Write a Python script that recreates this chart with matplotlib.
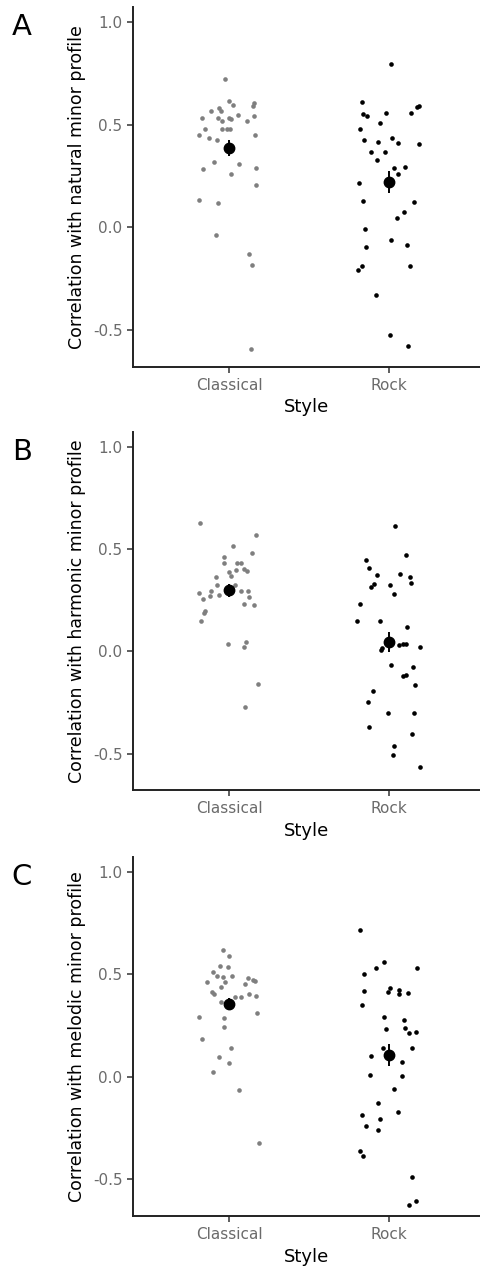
import matplotlib
matplotlib.use("Agg")
import matplotlib.pyplot as plt
import numpy as np

styles = ["Classical", "Rock"]
panel_labels = ["A", "B", "C"]
y_titles = [
    "Correlation with natural minor profile",
    "Correlation with harmonic minor profile",
    "Correlation with melodic minor profile",
]
y_ticks = [-0.5, 0.0, 0.5, 1.0]

# panel A: natural minor
nat_classical = [0.719, 0.612, 0.593, 0.605, 0.589, 0.568, 0.581, 0.565, 0.534, 0.534,
                 0.531, 0.528, 0.547, 0.518, 0.542, 0.515, 0.476, 0.477, 0.477, 0.476,
                 0.451, 0.433, 0.425, 0.451, 0.317, 0.307, 0.286, 0.261, 0.289, 0.205,
                 0.133, 0.117, -0.039, -0.128, -0.183, -0.594]
nat_classical_jit = [-0.025, 0.0, 0.025, 0.156, 0.15, -0.11, -0.062, -0.052, -0.17, -0.069,
                     0.0, 0.01, 0.058, 0.11, 0.156, -0.044, -0.15, -0.042, -0.015, 0.006,
                     -0.185, -0.125, -0.073, 0.16, -0.094, 0.065, -0.165, 0.01, 0.167, 0.167,
                     -0.19, -0.067, -0.079, 0.125, 0.144, 0.138]
nat_rock = [0.795, 0.609, 0.552, 0.542, 0.558, 0.508, 0.558, 0.586, 0.589, 0.476,
            0.425, 0.416, 0.433, 0.411, 0.407, 0.368, 0.368, 0.326, 0.289, 0.291,
            0.261, 0.214, 0.130, 0.122, 0.076, 0.045, -0.010, -0.060, -0.097, -0.084,
            -0.190, -0.206, -0.190, -0.330, -0.523, -0.578]
nat_rock_jit = [0.01, -0.169, -0.163, -0.135, -0.017, -0.056, 0.135, 0.175, 0.19, -0.181,
                -0.156, -0.071, 0.021, 0.056, 0.19, -0.115, -0.027, -0.077, 0.033, 0.102,
                0.058, -0.19, -0.16, 0.156, 0.094, 0.052, -0.152, 0.01, -0.146, 0.112,
                -0.171, -0.192, 0.129, -0.081, 0.004, 0.119]

# panel B: harmonic minor
har_classical = [0.625, 0.570, 0.513, 0.479, 0.463, 0.429, 0.429, 0.430, 0.398, 0.401,
                 0.390, 0.385, 0.369, 0.365, 0.326, 0.323, 0.286, 0.295, 0.271, 0.276,
                 0.295, 0.295, 0.266, 0.253, 0.231, 0.226, 0.195, 0.187, 0.146, 0.036,
                 0.045, 0.019, -0.162, -0.271]
har_classical_jit = [-0.18, 0.17, 0.025, 0.146, -0.033, -0.033, 0.052, 0.073, 0.042, 0.094,
                     0.115, 0.0, 0.01, -0.083, -0.077, 0.038, -0.19, -0.11, -0.119, -0.065,
                     0.073, 0.117, 0.123, -0.165, 0.092, 0.154, -0.15, -0.156, -0.175, -0.006,
                     0.108, 0.096, 0.18, 0.1]
har_rock = [0.612, 0.448, 0.469, 0.406, 0.373, 0.378, 0.365, 0.334, 0.313, 0.330,
            0.323, 0.281, 0.231, 0.146, 0.149, 0.120, 0.015, 0.006, 0.032, 0.037,
            0.034, 0.023, -0.065, -0.075, -0.120, -0.114, -0.166, -0.192, -0.247, -0.304,
            -0.300, -0.372, -0.406, -0.461, -0.508, -0.567]
har_rock_jit = [0.035, -0.144, 0.108, -0.127, -0.075, 0.071, 0.131, 0.137, -0.115, -0.094,
                0.004, 0.029, -0.183, -0.198, -0.054, 0.115, -0.044, -0.05, 0.065, 0.085,
                0.108, 0.196, 0.01, 0.15, 0.085, 0.106, 0.163, -0.098, -0.131, -0.006,
                0.156, -0.127, 0.146, 0.033, 0.027, 0.196]

# panel C: melodic minor
mel_classical = [0.618, 0.589, 0.541, 0.536, 0.510, 0.494, 0.489, 0.494, 0.481, 0.472,
                 0.468, 0.464, 0.451, 0.461, 0.437, 0.412, 0.404, 0.403, 0.394, 0.391,
                 0.391, 0.367, 0.292, 0.289, 0.313, 0.245, 0.187, 0.140, 0.099, 0.070,
                 0.023, -0.065, -0.323]
mel_classical_jit = [-0.035, 0.002, -0.058, -0.008, -0.102, -0.077, -0.037, 0.019, 0.121, 0.15,
                     0.165, -0.135, 0.1, -0.027, -0.052, -0.108, -0.096, 0.127, 0.167, 0.037,
                     0.077, -0.05, -0.185, -0.033, 0.177, -0.029, -0.167, 0.012, -0.06, 0.0,
                     -0.1, 0.062, 0.19]
mel_rock = [0.714, 0.558, 0.532, 0.532, 0.502, 0.432, 0.416, 0.424, 0.404, 0.409,
            0.417, 0.352, 0.292, 0.279, 0.232, 0.237, 0.213, 0.221, 0.141, 0.141,
            0.104, 0.071, 0.010, 0.006, -0.057, -0.128, -0.170, -0.187, -0.206, -0.237,
            -0.260, -0.359, -0.385, -0.487, -0.607, -0.625]
mel_rock_jit = [-0.183, -0.031, -0.081, 0.173, -0.156, 0.006, -0.006, 0.065, 0.065, 0.121,
                -0.156, -0.167, -0.033, 0.092, -0.021, 0.1, 0.127, 0.167, -0.037, 0.142,
                -0.11, 0.08, -0.117, 0.08, 0.033, -0.067, 0.058, -0.171, -0.056, -0.146,
                -0.067, -0.181, -0.163, 0.146, 0.167, 0.125]

# means and standard errors
means = [[0.385, 0.221], [0.297, 0.045], [0.354, 0.106]]
errors = [[0.04, 0.055], [0.03, 0.05], [0.03, 0.055]]

panels = [
    (nat_classical, nat_classical_jit, nat_rock, nat_rock_jit),
    (har_classical, har_classical_jit, har_rock, har_rock_jit),
    (mel_classical, mel_classical_jit, mel_rock, mel_rock_jit),
]

W, H = 480, 1270
fig = plt.figure(figsize=(W / 100, H / 100), dpi=100)

# top / bottom of each panel in pixels
panel_px = [(6.7, 366.7), (431.7, 790.0), (856.7, 1216.0)]
left_px = 133

for i, (top, bot) in enumerate(panel_px):
    ax = fig.add_axes([left_px / W, 1 - bot / H, (W - left_px) / W, (bot - top) / H])
    cl, cl_j, rk, rk_j = panels[i]
    ax.scatter(1 + np.array(cl_j), cl, s=11, color="#7f7f7f", linewidths=0, zorder=2)
    ax.scatter(2 + np.array(rk_j), rk, s=11, color="black", linewidths=0, zorder=2)
    ax.errorbar([1, 2], means[i], yerr=errors[i], fmt="o", color="black",
                markersize=7.5, elinewidth=1.4, capsize=0, zorder=3)

    ax.set_xlim(0.4, 0.4 + (W - left_px) / 160)
    ax.set_ylim(-0.678, 1.073)
    ax.set_xticks([1, 2])
    ax.set_xticklabels(styles)
    ax.set_yticks(y_ticks)
    ax.set_yticklabels([f"{t:.1f}" for t in y_ticks])
    ax.tick_params(colors="#333333", labelcolor="#6b6b6b", labelsize=11,
                   length=4, width=1.1)
    ax.tick_params(axis="x", pad=4)
    for side in ["top", "right"]:
        ax.spines[side].set_visible(False)
    for side in ["left", "bottom"]:
        ax.spines[side].set_linewidth(1.4)
        ax.spines[side].set_color("#222222")
    ax.set_xlabel("Style", fontsize=13, labelpad=4)
    ax.set_ylabel(y_titles[i], fontsize=12.5, labelpad=5)

    fig.text(22 / W, 1 - (top + 20) / H, panel_labels[i], fontsize=21,
             ha="center", va="center")

fig.savefig("out.png", dpi=100)
